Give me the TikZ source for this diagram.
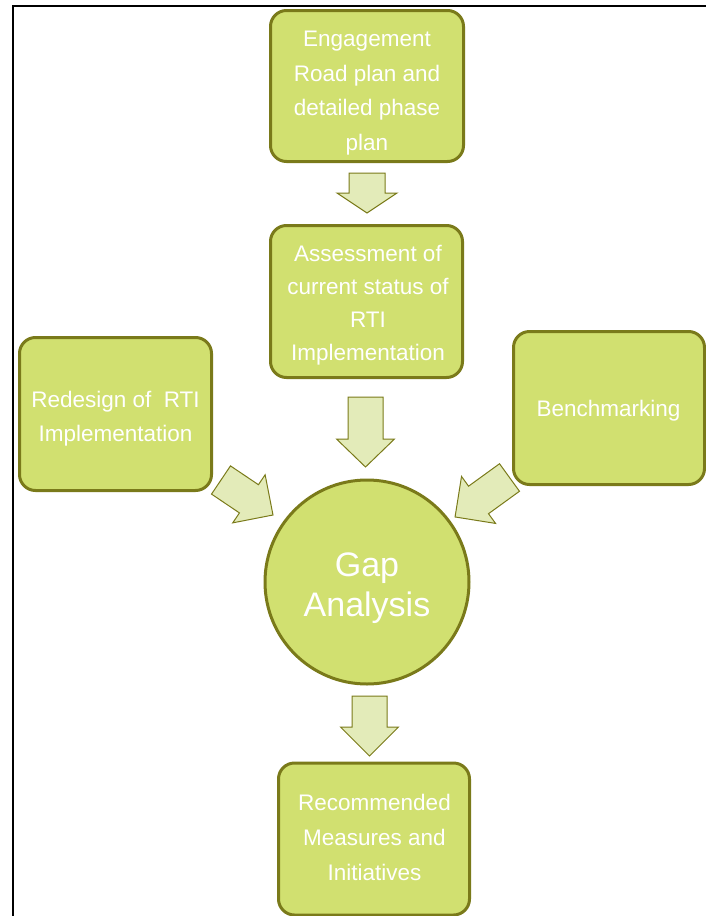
\documentclass[tikz,border=0pt]{standalone}
\usepackage{fontspec}
\setmainfont{Liberation Sans}
\usetikzlibrary{calc}
\definecolor{boxfill}{RGB}{209,224,112}
\definecolor{boxline}{RGB}{122,122,26}
\definecolor{arrfill}{RGB}{227,235,185}
\tikzset{
  stepbox/.style={rectangle, rounded corners=16pt, draw=boxline, line width=3pt, fill=boxfill,
    inner sep=0pt},
  bigcircle/.style={circle, draw=boxline, line width=3pt, fill=boxfill,
    inner sep=0pt, minimum size=204pt},
  boxtext/.style={text=white, align=center, inner sep=0pt, anchor=base},
  blockarr/.style={draw=boxline, line width=1pt, fill=arrfill, line join=miter},
  frameline/.style={draw=black, line width=2pt}
}
% start, tip, shaft half width, head half width, head length
\newcommand\myblockarrow[5]{%
  \path[blockarr] let \p1=($(#2)-(#1)$), \n1={atan2(\y1,\x1)}, \n2={veclen(\x1,\y1)} in
    [shift={(#1)}, rotate=\n1]
    (0pt,#3pt) -- ({\n2-#5pt},#3pt) -- ({\n2-#5pt},#4pt) -- (\n2,0pt)
    -- ({\n2-#5pt},-#4pt) -- ({\n2-#5pt},-#3pt) -- (0pt,-#3pt) -- cycle;}
\begin{document}
\begin{tikzpicture}[x=1pt,y=-1pt]
\useasboundingbox (0,0) rectangle (706,916);
\draw[frameline] (13,916) -- (13,6) -- (706,6);

\node[stepbox, minimum width=193pt, minimum height=151pt] (eng) at (367,86) {};
\node[stepbox, minimum width=192pt, minimum height=152pt] (ass) at (366.5,301.5) {};
\node[stepbox, minimum width=192pt, minimum height=153pt] (red) at (115.5,414) {};
\node[stepbox, minimum width=191pt, minimum height=153pt] (ben) at (609,408) {};
\node[bigcircle] (gap) at (367,582) {};
\node[stepbox, minimum width=191pt, minimum height=152pt] (rec) at (374,839) {};

% anchor=base is the baseline of the last line
\node[boxtext, font=\fontsize{22.5}{34.5}\selectfont] (engt) at (367,150)
  {Engagement\\Road plan and\\detailed phase\\plan};
\node[boxtext, font=\fontsize{22.5}{33}\selectfont] (asst) at (368,360.5)
  {Assessment of\\current status of\\RTI\\Implementation};
\node[boxtext, font=\fontsize{22.5}{34}\selectfont] (redt) at (115.5,441)
  {Redesign of \ RTI\\Implementation};
\node[boxtext, font=\fontsize{22.5}{34}\selectfont] (bent) at (608.5,416)
  {Benchmarking};
\node[boxtext, font=\fontsize{34}{40}\selectfont] (gapt) at (367,616)
  {Gap\\Analysis};
\node[boxtext, font=\fontsize{22.5}{35}\selectfont] (rect) at (374.5,880)
  {Recommended\\Measures and\\Initiatives};

\coordinate (a1s) at (367,173); \coordinate (a1t) at (367,213);
\coordinate (a2s) at (365.5,397); \coordinate (a2t) at (365.5,467);
\coordinate (a3s) at (369.5,696); \coordinate (a3t) at (369.5,756);
\coordinate (a4s) at (221,480); \coordinate (a4t) at (273,515);
\coordinate (a5s) at (509.5,477.5); \coordinate (a5t) at (455,517);

\myblockarrow{a1s}{a1t}{18}{30}{20}
\myblockarrow{a2s}{a2t}{17.5}{29}{28}
\myblockarrow{a3s}{a3t}{17.5}{29}{29}
\myblockarrow{a4s}{a4t}{17}{29}{29}
\myblockarrow{a5s}{a5t}{17}{29}{29}
\end{tikzpicture}
\end{document}
